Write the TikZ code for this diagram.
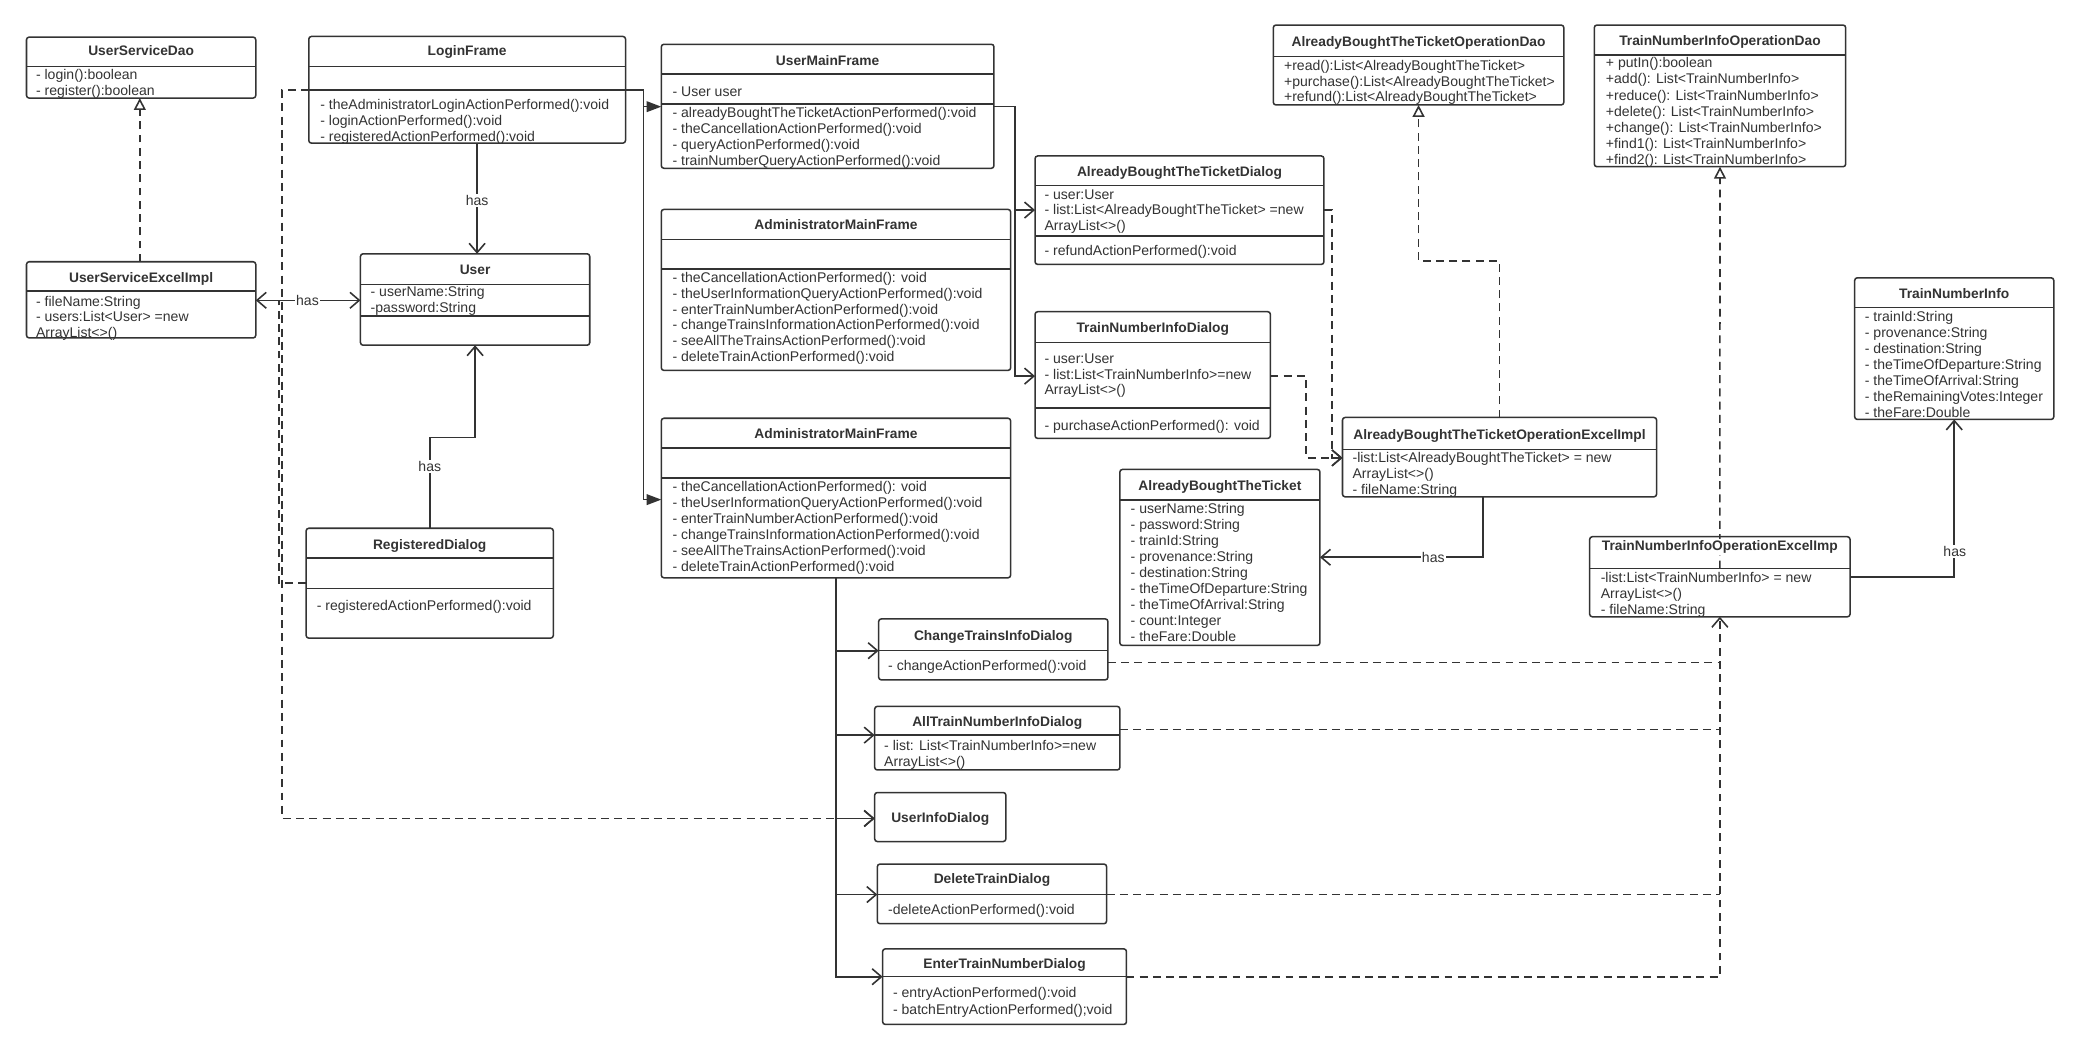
\documentclass[tikz,border=0pt]{standalone}
\usepackage{fontspec}
\setmainfont{Liberation Sans}
\usetikzlibrary{arrows.meta}
\definecolor{ink}{HTML}{333333}
\newcommand\umlclass[5]{\node[ubx, anchor=north west, minimum width={#4-#2}, minimum height={#5-#3}] (#1) at (#2,#3) {};}
\newcommand\udiv[2]{\draw[ubl] (#1.west |- 0,#2) -- (#1.east |- 0,#2);}
\newcommand\ulines[5]{\foreach \ltext [count=\li] in {#5} {\node[utxt] (#1\li) at (#2,{#3+#4*(\li-1)}) {\ltext};}}
\newcommand\utitle[3]{\node[uttl] (#1-t) at (#1.north |- 0,#2) {#3};}
\begin{document}
\begin{tikzpicture}[x=1pt,y=-1pt,
  ubx/.style={draw=ink, line width=1.15pt, rounded corners=2pt, inner sep=0pt, outer sep=0pt},
  ubl/.style={draw=ink, line width=1.15pt},
  utxt/.style={anchor=west, inner sep=0pt, text=ink, font=\fontsize{10.6}{12}\selectfont, text height=8pt, text depth=2pt},
  uttl/.style={inner sep=1pt, fill=white, text=ink, font=\fontsize{10.4}{12}\selectfont\bfseries, text height=8pt, text depth=2pt},
  lbl/.style={inner sep=1pt, fill=white, text=ink, font=\fontsize{10.6}{12}\selectfont},
  conn/.style={draw=ink, line width=1.2pt},
  assoc/.style={conn, -{Straight Barb[length=7pt,width=12pt]}},
  assocboth/.style={conn, {Straight Barb[length=7pt,width=12pt]}-{Straight Barb[length=7pt,width=12pt]}},
  nav/.style={conn, -{Triangle[length=11pt,width=8pt]}},
  dashy/.style={conn, dash pattern=on 6pt off 4pt},
  dep/.style={dashy, -{Straight Barb[length=7pt,width=12pt]}},
  real/.style={dashy, -{Triangle[length=9pt,width=9pt,fill=white]}}
]
\fill[white] (0,0) rectangle (1568,792);
\useasboundingbox (0,0) rectangle (1568,792);

% ---------- class boxes ----------
\umlclass{usd}{20}{28}{193}{74}
\udiv{usd}{50}
\ulines{usd-a}{27}{57}{12}{- login():boolean, - register():boolean}

\umlclass{lf}{233}{27.5}{472}{108}
\udiv{lf}{50}\udiv{lf}{68}
\ulines{lf-m}{241.5}{80}{11.8}{- theAdministratorLoginActionPerformed():void, - loginActionPerformed():void, - registeredActionPerformed():void}

\umlclass{usei}{20}{197.5}{193}{255}
\udiv{usei}{219.5}
\ulines{usei-a}{27}{228}{11.8}{- fileName:String, - users:List<User> =new, ArrayList<>()}

\umlclass{user}{272}{191.5}{445}{260.5}
\udiv{user}{214.5}\udiv{user}{238.5}
\ulines{user-a}{279.5}{221}{12}{- userName:String, -password:String}

\umlclass{rd}{231}{398.6}{417.5}{481.5}
\udiv{rd}{421}\udiv{rd}{444}
\ulines{rd-m}{238.9}{458}{12}{- registeredActionPerformed():void}

\umlclass{umf}{499}{33.4}{750}{127}
\udiv{umf}{56}\udiv{umf}{78.5}
\ulines{umf-a}{507.3}{69.5}{12}{- User user}
\ulines{umf-m}{507.3}{86}{12}{- alreadyBoughtTheTicketActionPerformed():void, - theCancellationActionPerformed():void, - queryActionPerformed():void, - trainNumberQueryActionPerformed():void}

\umlclass{amf1}{499}{158}{762.6}{279.5}
\udiv{amf1}{180.6}\udiv{amf1}{203}
\ulines{amf1-m}{507.3}{210}{12}{- theCancellationActionPerformed(): void, - theUserInformationQueryActionPerformed():void, - enterTrainNumberActionPerformed():void, - changeTrainsInformationActionPerformed():void, - seeAllTheTrainsActionPerformed():void, - deleteTrainActionPerformed():void}

\umlclass{amf2}{499}{315.6}{762.6}{436}
\udiv{amf2}{338}\udiv{amf2}{360.5}
\ulines{amf2-m}{507.3}{367.7}{12.06}{- theCancellationActionPerformed(): void, - theUserInformationQueryActionPerformed():void, - enterTrainNumberActionPerformed():void, - changeTrainsInformationActionPerformed():void, - seeAllTheTrainsActionPerformed():void, - deleteTrainActionPerformed():void}

\umlclass{abtd}{781}{117.7}{999}{199.5}
\udiv{abtd}{139.9}\udiv{abtd}{178}
\ulines{abtd-a}{788}{147.2}{12}{- user:User, - list:List<AlreadyBoughtTheTicket> =new, ArrayList<>()}
\ulines{abtd-m}{788}{190}{12}{- refundActionPerformed():void}

\umlclass{tnid}{781}{235.2}{958.6}{330.8}
\udiv{tnid}{258.4}\udiv{tnid}{308}
\ulines{tnid-a}{788}{271}{12}{- user:User, - list:List<TrainNumberInfo>=new, ArrayList<>()}
\ulines{tnid-m}{788}{321.5}{12}{- purchaseActionPerformed(): void}

\umlclass{abt}{845}{354.2}{996}{487}
\udiv{abt}{377.4}
\ulines{abt-a}{853}{384.4}{12.08}{- userName:String, - password:String, - trainId:String, - provenance:String, - destination:String, - theTimeOfDeparture:String, - theTimeOfArrival:String, - count:Integer, - theFare:Double}

\umlclass{abtod}{960.8}{18.9}{1180}{79.2}
\udiv{abtod}{42.8}
\ulines{abtod-m}{968.7}{50.3}{11.7}{+read():List<AlreadyBoughtTheTicket>, +purchase():List<AlreadyBoughtTheTicket>, +refund():List<AlreadyBoughtTheTicket>}

\umlclass{tniod}{1203}{18.9}{1392.7}{125.8}
\udiv{tniod}{41.5}
\ulines{tniod-m}{1211.6}{48.3}{12.08}{+ putIn():boolean, +add(): List<TrainNumberInfo>, +reduce(): List<TrainNumberInfo>, +delete(): List<TrainNumberInfo>, +change(): List<TrainNumberInfo>, +find1(): List<TrainNumberInfo>, +find2(): List<TrainNumberInfo>}

\umlclass{tni}{1399.5}{209.6}{1549.7}{316.5}
\udiv{tni}{232.2}
\ulines{tni-a}{1407}{239.5}{12.08}{- trainId:String, - provenance:String, - destination:String, - theTimeOfDeparture:String, - theTimeOfArrival:String, - theRemainingVotes:Integer, - theFare:Double}

\umlclass{abtoi}{1013}{315}{1250}{374.9}
\udiv{abtoi}{339.1}
\ulines{abtoi-a}{1020.4}{346}{12.1}{-list:List<AlreadyBoughtTheTicket> = new, ArrayList<>(), - fileName:String}

\umlclass{tnioi}{1199.5}{405}{1396}{465.4}
\udiv{tnioi}{429}
\ulines{tnioi-a}{1207.7}{436.5}{12.2}{-list:List<TrainNumberInfo> = new, ArrayList<>(), - fileName:String}

\umlclass{ctid}{663}{467}{836}{513}
\udiv{ctid}{491}
\ulines{ctid-m}{670}{503}{12}{- changeActionPerformed():void}

\umlclass{atnid}{660}{533}{845}{581}
\udiv{atnid}{554.7}
\ulines{atnid-a}{667}{563}{12}{- list: List<TrainNumberInfo>=new, ArrayList<>()}

\umlclass{uid}{660}{598}{759}{635}

\umlclass{dtd}{662}{652}{835}{697}
\udiv{dtd}{675}
\ulines{dtd-m}{670}{687}{12}{-deleteActionPerformed():void}

\umlclass{etnd}{666}{716}{850}{773}
\udiv{etnd}{737}
\ulines{etnd-m}{673.7}{750}{12.5}{- entryActionPerformed():void, - batchEntryActionPerformed();void}

% ---------- connectors ----------
% realizations
\draw[real] (usei.north -| 105.5,0) -- (usd.south -| 105.5,0);
\draw[real] (abtoi.north) -- (abtoi.north |- 0,197) -| (abtod.south);
\draw[real] (tnioi.north |- 0,429) -- (tniod.south);

% has associations
\draw[assoc] (lf.south -| 360,0) -- (user.north -| 360,0);
\draw[assocboth] (usei.east |- 0,226.6) -- (user.west |- 0,226.6);
\draw[assoc] (rd.north) |- (358.5,330) -- (user.south -| 358.5,0);
\draw[assoc] (abtoi.south -| 1119,0) |- (abt.east |- 0,420.5);
\draw[assoc] (tnioi.east |- 0,435.2) -| (tni.south);

% navigation from LoginFrame
\draw[nav] (lf.east |- 0,68) -| (485.6,80.5) -- (umf.west |- 0,80.5);
\draw[nav] (485.6,80.5) |- (amf2.west |- 0,377);

% UserMainFrame to dialogs
\draw[assoc] (umf.east |- 0,80.5) -| (766,158.5) -- (abtd.west |- 0,158.5);
\draw[assoc] (766,158.5) |- (tnid.west |- 0,283.8);

% dialogs depend on ticket operation impl
\draw[dep] (abtd.east |- 0,158.5) -| (1005,345.5) -- (abtoi.west |- 0,345.5);
\draw[dep] (tnid.east |- 0,283.8) -| (985.5,345.5) -- (abtoi.west |- 0,345.5);

% admin frame to dialogs
\draw[assoc] (amf2.south) |- (etnd.west |- 0,737);
\draw[assoc] (amf2.south |- 0,491) -- (ctid.west |- 0,491);
\draw[assoc] (amf2.south |- 0,554.7) -- (atnid.west |- 0,554.7);
\draw[assoc] (amf2.south |- 0,617.6) -- (uid.west |- 0,617.6);
\draw[assoc] (amf2.south |- 0,675) -- (dtd.west |- 0,675);

% admin dialogs depend on train number impl
\draw[dep] (etnd.east |- 0,737) -| (tnioi.south);
\draw[dashy] (ctid.east |- 0,500) -- (tnioi.south |- 0,500);
\draw[dashy] (atnid.east |- 0,550.4) -- (tnioi.south |- 0,550.4);
\draw[dashy] (dtd.east |- 0,675) -- (tnioi.south |- 0,675);

% left dashed dependencies
\draw[dep] (lf.west |- 0,68) -| (213,617.6) -- (uid.west |- 0,617.6);
\draw[dashy] (rd.west |- 0,440) -| (210.5,226.6) -- (usei.east |- 0,226.6);

% ---------- titles ----------
\utitle{usd}{39}{UserServiceDao}
\utitle{lf}{39}{LoginFrame}
\utitle{usei}{210}{UserServiceExcelImpl}
\utitle{user}{204}{User}
\utitle{rd}{411.5}{RegisteredDialog}
\utitle{umf}{46.6}{UserMainFrame}
\utitle{amf1}{170}{AdministratorMainFrame}
\utitle{amf2}{327.6}{AdministratorMainFrame}
\utitle{abtd}{130.3}{AlreadyBoughtTheTicketDialog}
\utitle{tnid}{247.8}{TrainNumberInfoDialog}
\utitle{abt}{367}{AlreadyBoughtTheTicket}
\utitle{abtod}{32}{AlreadyBoughtTheTicketOperationDao}
\utitle{tniod}{31.4}{TrainNumberInfoOperationDao}
\utitle{tni}{222.1}{TrainNumberInfo}
\utitle{abtoi}{328.3}{AlreadyBoughtTheTicketOperationExcelImpl}
\utitle{tnioi}{412.6}{TrainNumberInfoOperationExcelImp}
\utitle{ctid}{480.5}{ChangeTrainsInfoDialog}
\utitle{atnid}{545}{AllTrainNumberInfoDialog}
\utitle{uid}{617.6}{UserInfoDialog}
\utitle{dtd}{664}{DeleteTrainDialog}
\utitle{etnd}{727.6}{EnterTrainNumberDialog}

% ---------- labels ----------
\node[lbl] (has1) at (360,151) {has};
\node[lbl] (has2) at (232,226.6) {has};
\node[lbl] (has3) at (324.3,352) {has};
\node[lbl] (has4) at (1081.5,420.5) {has};
\node[lbl] (has5) at (1475,416) {has};
\end{tikzpicture}
\end{document}
